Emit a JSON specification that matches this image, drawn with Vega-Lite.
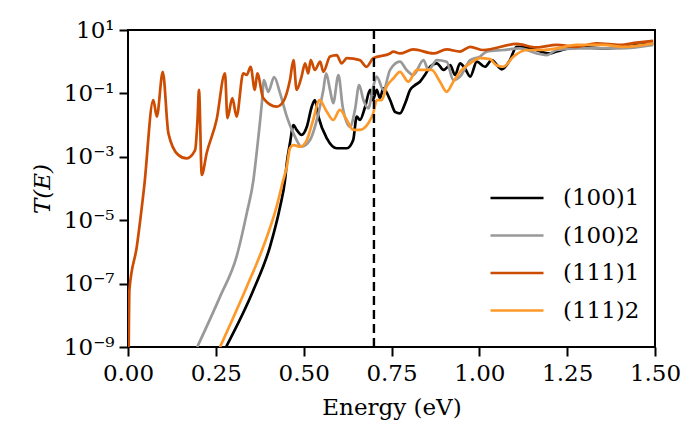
{
  "$schema": "https://vega.github.io/schema/vega-lite/v6.json",
  "width": 527,
  "height": 317,
  "autosize": "none",
  "padding": {"left": 128, "top": 30, "right": 43, "bottom": 99},
  "background": "white",
  "config": {
    "view": {"stroke": "black", "strokeWidth": 2},
    "font": "DejaVu Serif",
    "axis": {"grid": false, "domain": false, "ticks": true, "tickColor": "black", "tickWidth": 2, "tickSize": 9, "labelColor": "black", "labelFont": "DejaVu Serif", "labelFontSize": 23, "titleFont": "DejaVu Serif", "titleFontSize": 23, "titleFontWeight": "normal", "titleColor": "black"},
    "legend": {"labelFont": "DejaVu Serif", "labelFontSize": 23, "labelColor": "black"}
  },
  "datasets": {
    "curves": [
      {"series": "(100)1", "E": 0.279, "T": 1e-9},
      {"series": "(100)1", "E": 0.357, "T": 6.3e-8},
      {"series": "(100)1", "E": 0.404, "T": 1.45e-6},
      {"series": "(100)1", "E": 0.433, "T": 2.69e-5},
      {"series": "(100)1", "E": 0.447, "T": 1.86e-4},
      {"series": "(100)1", "E": 0.452, "T": 6.3e-4},
      {"series": "(100)1", "E": 0.461, "T": 2.69e-3},
      {"series": "(100)1", "E": 0.471, "T": 1.0e-2},
      {"series": "(100)1", "E": 0.48, "T": 7.08e-3},
      {"series": "(100)1", "E": 0.494, "T": 4.9e-3},
      {"series": "(100)1", "E": 0.509, "T": 8.9e-3},
      {"series": "(100)1", "E": 0.523, "T": 3.8e-2},
      {"series": "(100)1", "E": 0.532, "T": 6.17e-2},
      {"series": "(100)1", "E": 0.542, "T": 1.86e-2},
      {"series": "(100)1", "E": 0.566, "T": 3.8e-3},
      {"series": "(100)1", "E": 0.594, "T": 1.86e-3},
      {"series": "(100)1", "E": 0.623, "T": 1.86e-3},
      {"series": "(100)1", "E": 0.641, "T": 3.39e-3},
      {"series": "(100)1", "E": 0.651, "T": 1.86e-2},
      {"series": "(100)1", "E": 0.66, "T": 1.45e-2},
      {"series": "(100)1", "E": 0.675, "T": 3.8e-2},
      {"series": "(100)1", "E": 0.689, "T": 0.129},
      {"series": "(100)1", "E": 0.697, "T": 6.17e-2},
      {"series": "(100)1", "E": 0.708, "T": 0.129},
      {"series": "(100)1", "E": 0.717, "T": 7.08e-2},
      {"series": "(100)1", "E": 0.727, "T": 0.145},
      {"series": "(100)1", "E": 0.746, "T": 6.17e-2},
      {"series": "(100)1", "E": 0.76, "T": 2.63e-2},
      {"series": "(100)1", "E": 0.774, "T": 2.34e-2},
      {"series": "(100)1", "E": 0.789, "T": 4.9e-2},
      {"series": "(100)1", "E": 0.803, "T": 0.129},
      {"series": "(100)1", "E": 0.817, "T": 0.182},
      {"series": "(100)1", "E": 0.831, "T": 0.234},
      {"series": "(100)1", "E": 0.845, "T": 0.38},
      {"series": "(100)1", "E": 0.86, "T": 0.692},
      {"series": "(100)1", "E": 0.879, "T": 0.891},
      {"series": "(100)1", "E": 0.898, "T": 0.55},
      {"series": "(100)1", "E": 0.917, "T": 0.776},
      {"series": "(100)1", "E": 0.931, "T": 0.38},
      {"series": "(100)1", "E": 0.945, "T": 0.891},
      {"series": "(100)1", "E": 0.959, "T": 0.617},
      {"series": "(100)1", "E": 0.974, "T": 0.339},
      {"series": "(100)1", "E": 0.993, "T": 1.0},
      {"series": "(100)1", "E": 1.016, "T": 0.692},
      {"series": "(100)1", "E": 1.035, "T": 1.12},
      {"series": "(100)1", "E": 1.064, "T": 0.575},
      {"series": "(100)1", "E": 1.087, "T": 1.12},
      {"series": "(100)1", "E": 1.106, "T": 2.95},
      {"series": "(100)1", "E": 1.144, "T": 2.63},
      {"series": "(100)1", "E": 1.201, "T": 1.82},
      {"series": "(100)1", "E": 1.22, "T": 2.09},
      {"series": "(100)1", "E": 1.277, "T": 2.95},
      {"series": "(100)1", "E": 1.353, "T": 2.63},
      {"series": "(100)1", "E": 1.429, "T": 3.16},
      {"series": "(100)1", "E": 1.495, "T": 3.8},

      {"series": "(100)2", "E": 0.197, "T": 1e-9},
      {"series": "(100)2", "E": 0.262, "T": 3.89e-8},
      {"series": "(100)2", "E": 0.309, "T": 7.08e-7},
      {"series": "(100)2", "E": 0.338, "T": 1.66e-5},
      {"series": "(100)2", "E": 0.357, "T": 1.86e-4},
      {"series": "(100)2", "E": 0.366, "T": 1.29e-3},
      {"series": "(100)2", "E": 0.381, "T": 4.9e-2},
      {"series": "(100)2", "E": 0.387, "T": 0.263},
      {"series": "(100)2", "E": 0.399, "T": 0.112},
      {"series": "(100)2", "E": 0.416, "T": 0.324},
      {"series": "(100)2", "E": 0.433, "T": 0.1},
      {"series": "(100)2", "E": 0.452, "T": 1.86e-2},
      {"series": "(100)2", "E": 0.471, "T": 5.5e-3},
      {"series": "(100)2", "E": 0.494, "T": 2.09e-3},
      {"series": "(100)2", "E": 0.518, "T": 3.39e-3},
      {"series": "(100)2", "E": 0.542, "T": 2.34e-2},
      {"series": "(100)2", "E": 0.556, "T": 0.129},
      {"series": "(100)2", "E": 0.564, "T": 0.427},
      {"series": "(100)2", "E": 0.575, "T": 0.129},
      {"series": "(100)2", "E": 0.584, "T": 4.9e-2},
      {"series": "(100)2", "E": 0.599, "T": 0.38},
      {"series": "(100)2", "E": 0.611, "T": 3.8e-2},
      {"series": "(100)2", "E": 0.632, "T": 8.9e-3},
      {"series": "(100)2", "E": 0.646, "T": 3.02e-2},
      {"series": "(100)2", "E": 0.658, "T": 0.182},
      {"series": "(100)2", "E": 0.67, "T": 6.17e-2},
      {"series": "(100)2", "E": 0.684, "T": 3.39e-2},
      {"series": "(100)2", "E": 0.698, "T": 0.162},
      {"series": "(100)2", "E": 0.708, "T": 0.339},
      {"series": "(100)2", "E": 0.727, "T": 0.129},
      {"series": "(100)2", "E": 0.746, "T": 0.55},
      {"series": "(100)2", "E": 0.774, "T": 1.0},
      {"series": "(100)2", "E": 0.793, "T": 0.55},
      {"series": "(100)2", "E": 0.812, "T": 0.38},
      {"series": "(100)2", "E": 0.841, "T": 1.12},
      {"series": "(100)2", "E": 0.855, "T": 0.55},
      {"series": "(100)2", "E": 0.879, "T": 1.12},
      {"series": "(100)2", "E": 0.907, "T": 1.0},
      {"series": "(100)2", "E": 0.926, "T": 0.263},
      {"series": "(100)2", "E": 0.945, "T": 0.339},
      {"series": "(100)2", "E": 0.974, "T": 1.12},
      {"series": "(100)2", "E": 1.002, "T": 1.45},
      {"series": "(100)2", "E": 1.021, "T": 2.09},
      {"series": "(100)2", "E": 1.068, "T": 2.34},
      {"series": "(100)2", "E": 1.116, "T": 2.63},
      {"series": "(100)2", "E": 1.163, "T": 1.82},
      {"series": "(100)2", "E": 1.192, "T": 1.62},
      {"series": "(100)2", "E": 1.22, "T": 2.34},
      {"series": "(100)2", "E": 1.277, "T": 2.63},
      {"series": "(100)2", "E": 1.353, "T": 2.63},
      {"series": "(100)2", "E": 1.4, "T": 2.63},
      {"series": "(100)2", "E": 1.495, "T": 3.39},

      {"series": "(111)1", "E": 0.002, "T": 1e-9},
      {"series": "(111)1", "E": 0.004, "T": 6.3e-8},
      {"series": "(111)1", "E": 0.025, "T": 1.45e-6},
      {"series": "(111)1", "E": 0.046, "T": 1.12e-4},
      {"series": "(111)1", "E": 0.072, "T": 6.17e-2},
      {"series": "(111)1", "E": 0.082, "T": 1.86e-2},
      {"series": "(111)1", "E": 0.099, "T": 0.479},
      {"series": "(111)1", "E": 0.115, "T": 5.5e-3},
      {"series": "(111)1", "E": 0.143, "T": 1.15e-3},
      {"series": "(111)1", "E": 0.167, "T": 8.9e-4},
      {"series": "(111)1", "E": 0.191, "T": 1.62e-3},
      {"series": "(111)1", "E": 0.198, "T": 1.6e-2},
      {"series": "(111)1", "E": 0.202, "T": 0.129},
      {"series": "(111)1", "E": 0.21, "T": 2.69e-4},
      {"series": "(111)1", "E": 0.224, "T": 1.32e-3},
      {"series": "(111)1", "E": 0.252, "T": 1.45e-2},
      {"series": "(111)1", "E": 0.276, "T": 0.427},
      {"series": "(111)1", "E": 0.283, "T": 1.66e-2},
      {"series": "(111)1", "E": 0.297, "T": 7.08e-2},
      {"series": "(111)1", "E": 0.309, "T": 1.86e-2},
      {"series": "(111)1", "E": 0.328, "T": 0.427},
      {"series": "(111)1", "E": 0.338, "T": 0.38},
      {"series": "(111)1", "E": 0.349, "T": 0.692},
      {"series": "(111)1", "E": 0.361, "T": 0.129},
      {"series": "(111)1", "E": 0.368, "T": 0.427},
      {"series": "(111)1", "E": 0.385, "T": 7.08e-2},
      {"series": "(111)1", "E": 0.423, "T": 3.8e-2},
      {"series": "(111)1", "E": 0.442, "T": 5.5e-2},
      {"series": "(111)1", "E": 0.461, "T": 0.263},
      {"series": "(111)1", "E": 0.471, "T": 1.12},
      {"series": "(111)1", "E": 0.48, "T": 0.129},
      {"series": "(111)1", "E": 0.494, "T": 0.339},
      {"series": "(111)1", "E": 0.504, "T": 0.891},
      {"series": "(111)1", "E": 0.513, "T": 0.427},
      {"series": "(111)1", "E": 0.52, "T": 1.12},
      {"series": "(111)1", "E": 0.532, "T": 0.55},
      {"series": "(111)1", "E": 0.547, "T": 1.0},
      {"series": "(111)1", "E": 0.556, "T": 0.479},
      {"series": "(111)1", "E": 0.575, "T": 1.45},
      {"series": "(111)1", "E": 0.594, "T": 1.62},
      {"series": "(111)1", "E": 0.608, "T": 0.891},
      {"series": "(111)1", "E": 0.623, "T": 1.29},
      {"series": "(111)1", "E": 0.66, "T": 1.12},
      {"series": "(111)1", "E": 0.679, "T": 0.692},
      {"series": "(111)1", "E": 0.698, "T": 1.29},
      {"series": "(111)1", "E": 0.746, "T": 1.82},
      {"series": "(111)1", "E": 0.755, "T": 2.09},
      {"series": "(111)1", "E": 0.774, "T": 1.82},
      {"series": "(111)1", "E": 0.812, "T": 2.45},
      {"series": "(111)1", "E": 0.869, "T": 1.82},
      {"series": "(111)1", "E": 0.907, "T": 2.45},
      {"series": "(111)1", "E": 0.945, "T": 2.09},
      {"series": "(111)1", "E": 0.974, "T": 2.95},
      {"series": "(111)1", "E": 1.011, "T": 2.34},
      {"series": "(111)1", "E": 1.106, "T": 3.63},
      {"series": "(111)1", "E": 1.163, "T": 2.82},
      {"series": "(111)1", "E": 1.22, "T": 3.39},
      {"series": "(111)1", "E": 1.277, "T": 2.95},
      {"series": "(111)1", "E": 1.334, "T": 3.8},
      {"series": "(111)1", "E": 1.4, "T": 3.39},
      {"series": "(111)1", "E": 1.448, "T": 3.98},
      {"series": "(111)1", "E": 1.495, "T": 4.57},

      {"series": "(111)2", "E": 0.262, "T": 1e-9},
      {"series": "(111)2", "E": 0.338, "T": 7.94e-8},
      {"series": "(111)2", "E": 0.385, "T": 1.45e-6},
      {"series": "(111)2", "E": 0.423, "T": 2.69e-5},
      {"series": "(111)2", "E": 0.442, "T": 1.86e-4},
      {"series": "(111)2", "E": 0.452, "T": 4.9e-4},
      {"series": "(111)2", "E": 0.461, "T": 1.86e-3},
      {"series": "(111)2", "E": 0.471, "T": 2.34e-3},
      {"series": "(111)2", "E": 0.49, "T": 2.09e-3},
      {"series": "(111)2", "E": 0.509, "T": 3.39e-3},
      {"series": "(111)2", "E": 0.527, "T": 1.45e-2},
      {"series": "(111)2", "E": 0.545, "T": 6.17e-2},
      {"series": "(111)2", "E": 0.566, "T": 2.63e-2},
      {"series": "(111)2", "E": 0.584, "T": 1.45e-2},
      {"series": "(111)2", "E": 0.603, "T": 3.02e-2},
      {"series": "(111)2", "E": 0.623, "T": 1.45e-2},
      {"series": "(111)2", "E": 0.641, "T": 7.08e-3},
      {"series": "(111)2", "E": 0.66, "T": 7.08e-3},
      {"series": "(111)2", "E": 0.684, "T": 1.15e-2},
      {"series": "(111)2", "E": 0.698, "T": 2.34e-2},
      {"series": "(111)2", "E": 0.708, "T": 6.17e-2},
      {"series": "(111)2", "E": 0.722, "T": 6.17e-2},
      {"series": "(111)2", "E": 0.736, "T": 0.162},
      {"series": "(111)2", "E": 0.755, "T": 0.295},
      {"series": "(111)2", "E": 0.774, "T": 0.479},
      {"series": "(111)2", "E": 0.798, "T": 0.234},
      {"series": "(111)2", "E": 0.822, "T": 0.55},
      {"series": "(111)2", "E": 0.841, "T": 0.55},
      {"series": "(111)2", "E": 0.864, "T": 0.55},
      {"series": "(111)2", "E": 0.888, "T": 0.234},
      {"series": "(111)2", "E": 0.907, "T": 0.112},
      {"series": "(111)2", "E": 0.926, "T": 0.234},
      {"series": "(111)2", "E": 0.95, "T": 0.55},
      {"series": "(111)2", "E": 0.974, "T": 0.891},
      {"series": "(111)2", "E": 1.002, "T": 1.29},
      {"series": "(111)2", "E": 1.03, "T": 1.2},
      {"series": "(111)2", "E": 1.049, "T": 0.776},
      {"series": "(111)2", "E": 1.068, "T": 0.692},
      {"series": "(111)2", "E": 1.097, "T": 1.45},
      {"series": "(111)2", "E": 1.135, "T": 2.34},
      {"series": "(111)2", "E": 1.182, "T": 2.34},
      {"series": "(111)2", "E": 1.22, "T": 2.63},
      {"series": "(111)2", "E": 1.277, "T": 3.39},
      {"series": "(111)2", "E": 1.353, "T": 3.39},
      {"series": "(111)2", "E": 1.41, "T": 2.95},
      {"series": "(111)2", "E": 1.495, "T": 3.8}
    ],
    "marker": [{"E": 0.7}]
  },
  "layer": [
    {
      "data": {"name": "curves"},
      "mark": {"type": "line", "strokeWidth": 2.7, "interpolate": "monotone", "clip": true},
      "encoding": {
        "x": {"field": "E", "type": "quantitative", "scale": {"domain": [0, 1.5], "nice": false, "zero": false},
              "axis": {"title": "Energy (eV)", "labelFont": "DejaVu Serif", "titleFont": "DejaVu Serif", "labelFontSize": 23, "titleFontSize": 23, "values": [0, 0.25, 0.5, 0.75, 1.0, 1.25, 1.5], "format": ".2f", "labelPadding": 6, "titlePadding": 11, "labelFlush": false}},
        "y": {"field": "T", "type": "quantitative", "scale": {"type": "log", "domain": [1e-9, 10], "nice": false},
              "axis": {"title": "T(E)", "labelFont": "DejaVu Serif", "titleFont": "DejaVu Serif", "labelFontSize": 23, "titleFontSize": 23, "titleFontStyle": "italic", "titlePadding": 9, "values": [1e-9, 1e-7, 1e-5, 1e-3, 0.1, 10], "labelPadding": 5, "labelFlush": false,
                       "labelExpr": "datum.value > 5 ? '10¹' : datum.value > 0.05 ? '10⁻¹' : datum.value > 5e-4 ? '10⁻³' : datum.value > 5e-6 ? '10⁻⁵' : datum.value > 5e-8 ? '10⁻⁷' : '10⁻⁹'"}},
        "color": {"field": "series", "type": "nominal",
                  "scale": {"domain": ["(100)1", "(100)2", "(111)1", "(111)2"], "range": ["#000000", "#999999", "#cc4c02", "#fe9929"]},
                  "legend": {"title": null, "orient": "none", "legendX": 361, "legendY": 156, "labelFont": "DejaVu Serif", "labelFontSize": 23, "symbolType": "stroke", "symbolSize": 2809, "symbolStrokeWidth": 2.6, "clipHeight": 24, "rowPadding": 13.5, "labelOffset": 18, "padding": 0}}
      }
    },
    {
      "data": {"name": "marker"},
      "mark": {"type": "rule", "color": "black", "strokeWidth": 2.4, "strokeDash": [9, 5]},
      "encoding": {"x": {"field": "E", "type": "quantitative"}}
    }
  ]
}
